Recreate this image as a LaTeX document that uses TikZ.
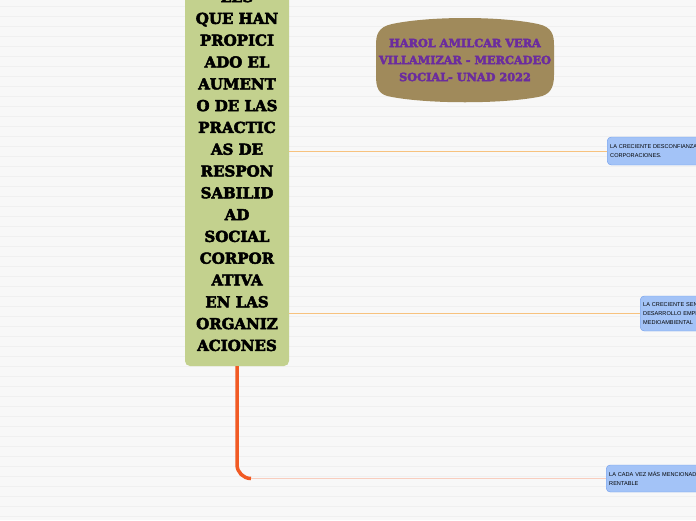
\documentclass[tikz,border=0pt]{standalone}
\usepackage{fontspec}
\setmainfont{DejaVu Serif}
\newfontfamily\heavyslab{DejaVu Serif}[BoldFeatures={FakeBold=3.5}]
\newfontfamily\notesans{Liberation Sans}
\usetikzlibrary{positioning,backgrounds}
\definecolor{pagebg}{HTML}{F8F8F8}
\definecolor{stripe}{HTML}{F0F0F0}
\definecolor{mainfill}{HTML}{C3D18E}
\definecolor{titlefill}{HTML}{A08A5B}
\definecolor{titleink}{HTML}{6B2C9E}
\definecolor{notefill}{HTML}{A3C3F7}
\definecolor{noteline}{HTML}{6F9CEB}
\definecolor{linkline}{HTML}{F7C27E}
\definecolor{paleline}{HTML}{F8CDBE}
\definecolor{trunkline}{HTML}{F15A24}

\begin{document}
\begin{tikzpicture}[x=1pt,y=-1pt,
  main/.style={fill=mainfill,rounded corners=5pt,align=center,minimum width=104pt,minimum height=390pt,
    inner sep=0pt,font=\heavyslab\bfseries\fontsize{15}{21.8}\selectfont},
  ttl/.style={align=center,text=titleink,font=\heavyslab\bfseries\fontsize{11.3}{17}\selectfont},
  note/.style={draw=noteline,fill=notefill,rounded corners=4pt,anchor=west,align=left,inner sep=3pt,
    minimum width=110pt,minimum height=28pt,text width=104pt,font=\notesans\fontsize{5.6}{9}\selectfont},
  link/.style={draw=linkline,line width=1pt},
  trunk/.style={draw=trunkline,line width=3.5pt}]
\useasboundingbox (0,0) rectangle (696,520);
% page
\fill[pagebg] (0,0) rectangle (696,520);
\foreach \y in {6,16,...,516} \draw[stripe,line width=0.7pt] (0,\y)--(696,\y);
% central topic
\node[main] (M) at (237,171) {LES\\QUE HAN\\PROPICI\\ADO EL\\AUMENT\\O DE LAS\\PRACTIC\\AS DE\\RESPON\\SABILID\\AD\\SOCIAL\\CORPOR\\ATIVA\\EN LAS\\ORGANIZ\\ACIONES};
% title
\fill[titlefill] (392,24) .. controls (430,16) and (500,16) .. (538,24)
  .. controls (552,27) and (554,35) .. (554,45) -- (554,75)
  .. controls (554,88) and (550,95) .. (538,97)
  .. controls (500,104) and (430,104) .. (392,97)
  .. controls (378,95) and (376,88) .. (376,75) -- (376,45)
  .. controls (376,35) and (378,27) .. (392,24);
\node[ttl] (T) at (465,60) {HAROL AMILCAR VERA\\VILLAMIZAR - MERCADEO\\SOCIAL- UNAD 2022};
% subtopics
\node[note] (N1) at (607,151) {LA CRECIENTE DESCONFIANZA D\\CORPORACIONES.};
\node[note,minimum height=35pt] (N2) at (640,313.5) {LA CRECIENTE SENS\\DESARROLLO EMPR\\MEDIOAMBIENTAL};
\node[note,minimum height=27pt] (N3) at (606,478.5) {LA CADA VEZ MÁS MENCIONAD\\RENTABLE};
\draw[link] (M.east |- N1) -- (N1.west);
\draw[link] (M.east |- N2) -- (N2.west);
\coordinate (bend) at (M.south |- N3.west);
\draw[trunk] (M.south) -- ([yshift=14pt]bend) arc[start angle=180,end angle=270,radius=14pt];
\draw[draw=paleline,line width=1.2pt] ([xshift=14pt]bend) -- (N3.west);
\end{tikzpicture}
\end{document}
